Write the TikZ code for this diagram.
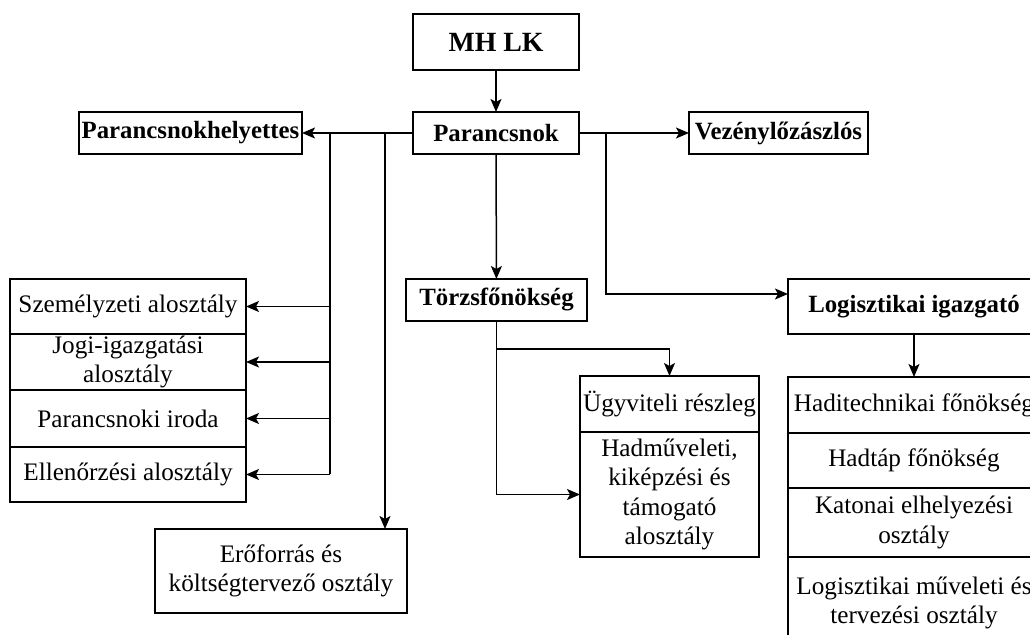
\documentclass[tikz,border=0pt]{standalone}
\usepackage{fontspec}
\setmainfont{Liberation Serif}
\usetikzlibrary{arrows.meta}

\tikzset{
  box/.style 2 args={draw, line width=0.75pt, inner sep=0pt, outer sep=0pt,
    minimum width={0.5pt*#1}, minimum height={0.5pt*#2}, align=center,
    font=\fontsize{12.6}{14.6}\selectfont},
  hdr/.style={font=\fontsize{12.4}{14.6}\selectfont\bfseries},
  arr/.style={line width=0.75pt, -{Stealth[length=6.5pt,width=5.5pt,inset=1.5pt]}},
  bus/.style={line width=0.75pt}
}

\begin{document}
\begin{tikzpicture}[x=0.5pt,y=-0.5pt]
    \useasboundingbox (0,0) rectangle (1030,635);

    % top of the tree
    \node[box={166}{56}, font=\fontsize{13.9}{16}\selectfont\bfseries] (mhlk) at (496,42) {MH LK};
    \node[box={166}{42}, hdr] (pk) at (496,133) {Parancsnok};
    \node[box={223}{42}, hdr] (phely) at (190.5,133) {Parancsnokhelyettes};
    \node[box={179}{42}, hdr] (vezeny) at (778.5,133) {Vezénylőzászlós};
    \node[box={181}{42}, hdr] (torzs) at (496.5,300) {Törzsfőnökség};
    \node[box={252}{55}, hdr] (logig) at (914,306.5) {Logisztikai igazgató};

    % left column
    \node[box={236}{55}] (szem) at (128,306.5) {Személyzeti alosztály};
    \node[box={236}{56}] (jogi) at (128,362) {Jogi-igazgatási\\alosztály};
    \node[box={236}{57}] (iroda) at (128,418.5) {Parancsnoki iroda};
    \node[box={236}{55}] (ell) at (128,474.5) {Ellenőrzési alosztály};
    \node[box={252}{84}] (eroforras) at (281,571) {Erőforrás és\\költségtervező osztály};

    % torzsfonokseg
    \node[box={179}{56}] (ugyv) at (669.5,404) {Ügyviteli részleg};
    \node[box={179}{125}] (hadm) at (669.5,494.5) {Hadműveleti,\\kiképzési és\\támogató\\alosztály};

    % logisztika
    \node[box={252}{56}] (hadit) at (914,405) {Haditechnikai főnökség};
    \node[box={252}{55}] (hadtap) at (914,460.5) {Hadtáp főnökség};
    \node[box={252}{69}] (katonai) at (914,522.5) {Katonai elhelyezési\\osztály};
    \node[box={252}{92}] (logmuv) at (914,603) {Logisztikai műveleti és\\tervezési osztály};

    \coordinate (lbus) at (330,133);
    \coordinate (mbus) at (385,133);
    \coordinate (rbus) at (606,133);

    \draw[arr] (mhlk) -- (pk);
    \draw[arr] (pk) -- (phely);
    \draw[arr] (pk) -- (vezeny);
    \draw[arr] (pk) -- (torzs);

    \draw[bus] (lbus) -- (lbus |- ell.east);
    \foreach \n in {szem,jogi,iroda,ell}
        \draw[arr] (lbus |- \n.east) -- (\n.east);
    \draw[arr] (mbus) -- (mbus |- eroforras.north);
    \draw[arr] (rbus) |- ([yshift=6.25pt]logig.west);

    \draw[arr] (torzs.south) -- ++(0,28) -| (ugyv.north);
    \draw[arr] (torzs.south) |- (hadm.west);
    \draw[arr] (logig) -- (hadit);

\end{tikzpicture}
\end{document}
